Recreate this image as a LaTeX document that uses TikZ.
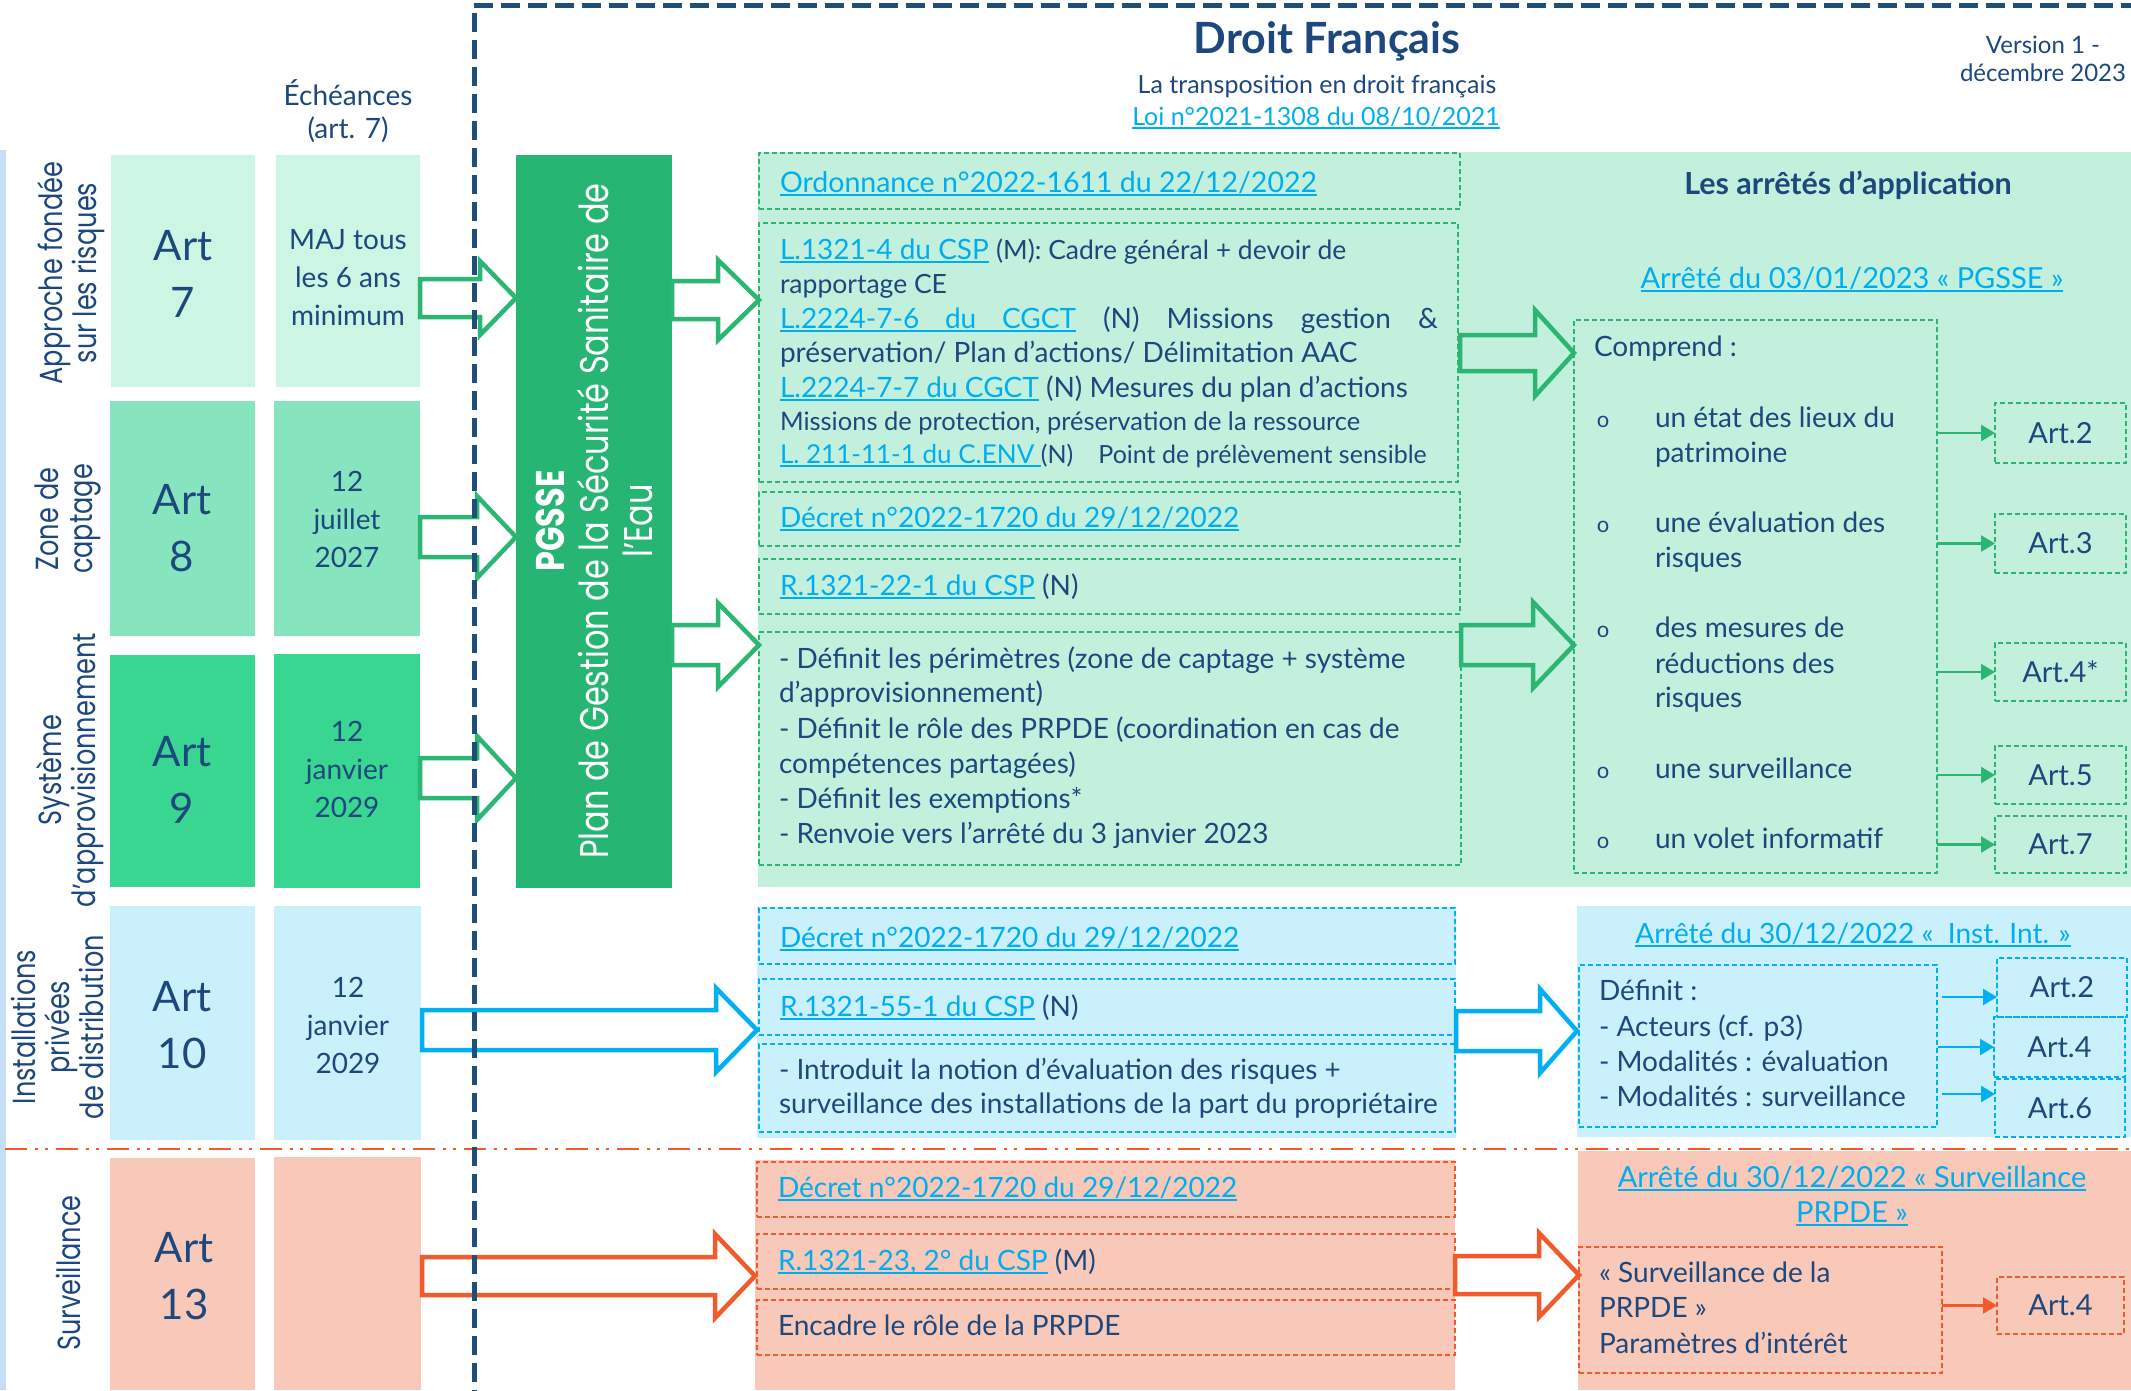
\documentclass[tikz,border=0pt]{standalone}
\usepackage{fontspec}
\setmainfont{Lato}
\newfontfamily\gothic[FakeStretch=0.8]{Poppins}
\usetikzlibrary{arrows.meta}
\definecolor{navy}{HTML}{1D487D}
\definecolor{navyd}{HTML}{1F4E79}
\definecolor{linkc}{HTML}{00AEEF}
\definecolor{grn}{HTML}{2BB673}
\definecolor{pg}{HTML}{27B574}
\definecolor{g1}{HTML}{CDF5E3}
\definecolor{g2}{HTML}{86E5BE}
\definecolor{g3}{HTML}{38D690}
\definecolor{rgreen}{HTML}{C2F0DC}
\definecolor{rblue}{HTML}{CAF0FC}
\definecolor{bluec}{HTML}{00B0F0}
\definecolor{salm}{HTML}{F8C8B8}
\definecolor{orng}{HTML}{F15A2B}
\definecolor{lbar}{HTML}{C5DDF5}
\newcommand\fs[2]{\fontsize{#1}{#2}\selectfont}
\newcommand\lnk[1]{{\color{linkc}\setbox0=\hbox{#1}\rlap{\rule[-3.5pt]{\wd0}{1.6pt}}\box0}}
\newcommand\bx[6][]{\node[basebox,#1,minimum width={(#5)-(#3)},minimum height={(#6)-(#4)}] (#2) at (#3,#4) {};}
\newcommand\barrow[7]{\draw[draw=#1,line width=4.5pt,miter limit=10] (#2,#5-#6) -- (#3,#5-#6) -- (#3,#5-#7) -- (#4,#5) -- (#3,#5+#7) -- (#3,#5+#6) -- (#2,#5+#6) -- cycle;}
\tikzset{
 basebox/.style={inner sep=0pt, outer sep=0pt, anchor=north west},
 gd/.style={draw=grn, line width=1.5pt, dash pattern=on 5pt off 3pt},
 bd/.style={draw=bluec, line width=1.5pt, dash pattern=on 5pt off 3pt},
 od/.style={draw=orng, line width=1.5pt, dash pattern=on 5pt off 3pt},
 tx/.style={inner sep=0pt, outer sep=0pt, anchor=base west, text=navy, font=\fs{28}{35}},
 ctx/.style={tx, anchor=base},
 big/.style={inner sep=0pt, align=center, text=navy, font=\fs{42}{57}},
 dt/.style={inner sep=0pt, align=center, text=navy, font=\fs{28}{38}},
 rot/.style={inner sep=0pt, rotate=90, align=center, text=navy, font=\gothic\fs{32}{34}},
 artl/.style={inner sep=0pt, text=navy, font=\fs{29}{35}},
 bul/.style={inner sep=0pt, anchor=base, text=navy, font=\fs{22}{30}},
 sg/.style={draw=grn, line width=2.5pt, -{Triangle[length=14pt,width=16pt]}},
 sb/.style={draw=bluec, line width=2.5pt, -{Triangle[length=14pt,width=16pt]}},
 so/.style={draw=orng, line width=2.5pt, -{Triangle[length=14pt,width=16pt]}},
}
\begin{document}
\begin{tikzpicture}[x=1pt,y=-1pt]
\useasboundingbox (0,0) rectangle (2131,1390);
\fill[white] (0,0) rectangle (2131,1390);
\fill[lbar] (0,150) rectangle (6,1390);
% regions
\bx[fill=rgreen]{regG}{758}{152}{2131}{887}
\bx[fill=rblue]{regBa}{757}{907}{1456}{1138}
\bx[fill=rblue]{regBb}{1577}{906}{2131}{1137}
\bx[fill=salm]{regOa}{755}{1160}{1455}{1390}
\bx[fill=salm]{regOb}{1578}{1151}{2131}{1390}
% left column
\bx[fill=g1]{art7}{111}{155}{255}{387}
\bx[fill=g1]{d7}{276}{155}{420}{387}
\bx[fill=g2]{art8}{110}{401}{255}{636}
\bx[fill=g2]{d8}{274}{401}{420}{636}
\bx[fill=g3]{art9}{110}{655}{255}{887}
\bx[fill=g3]{d9}{274}{654}{420}{888}
\bx[fill=rblue]{art10}{110}{906}{255}{1140}
\bx[fill=rblue]{d10}{274}{906}{421}{1140}
\bx[fill=salm]{art13}{110}{1158}{255}{1390}
\bx[fill=salm]{d13}{274}{1157}{421}{1390}
\bx[fill=pg]{pgsse}{516}{155}{672}{888}
% green dashed boxes
\bx[gd]{ord}{759}{153}{1460}{209}
\bx[gd]{lbox}{759}{223}{1458}{482}
\bx[gd]{deca}{759}{492}{1460}{546}
\bx[gd]{rtt}{759}{559}{1460}{614}
\bx[gd]{defb}{759}{632}{1461}{865}
\bx[gd]{comp}{1574}{320}{1937}{873}
\bx[gd]{ga2}{1995}{403}{2126}{463}
\bx[gd]{ga3}{1995}{514}{2126}{573}
\bx[gd]{ga4}{1995}{643}{2126}{701}
\bx[gd]{ga5}{1995}{746}{2126}{804}
\bx[gd]{ga7}{1995}{816}{2126}{873}
% blue dashed boxes
\bx[bd]{bdec}{759}{908}{1455}{964}
\bx[bd]{brff}{759}{979}{1455}{1035}
\bx[bd]{bint}{759}{1044}{1455}{1132}
\bx[bd]{bdef}{1579}{965}{1937}{1127}
\bx[bd]{bb2}{1997}{958}{2127}{1017}
\bx[bd]{bb4}{1994}{1017}{2125}{1077}
\bx[bd]{bb6}{1995}{1079}{2125}{1137}
% orange dashed boxes
\bx[od]{odec}{757}{1162}{1455}{1217}
\bx[od]{ortt}{757}{1234}{1455}{1289}
\bx[od]{oenc}{757}{1300}{1455}{1355}
\bx[od]{osur}{1579}{1247}{1942}{1373}
\bx[od]{oo4}{1997}{1277}{2124}{1334}
% dash-dot separator
\draw[orng, line width=2.5pt, dash pattern=on 22pt off 8pt on 3pt off 7pt on 3pt off 8pt] (5,1149) -- (2131,1149);
% block arrows
\barrow{grn}{420}{480}{516}{298}{19}{37}
\barrow{grn}{420}{477}{516}{537}{20}{41}
\barrow{grn}{420}{477}{516}{778}{20}{42}
\barrow{grn}{672}{718}{759}{300}{19}{40}
\barrow{grn}{672}{718}{759}{645}{20}{42}
\barrow{bluec}{422}{716}{757}{1030}{20}{42}
\barrow{orng}{422}{715}{755}{1276}{19}{42}
\barrow{grn}{1460}{1535}{1574}{353}{18}{43}
\barrow{grn}{1461}{1533}{1574}{645}{20}{43}
\barrow{bluec}{1456}{1540}{1577}{1031}{20}{42}
\barrow{orng}{1455}{1539}{1579}{1275}{19}{42}
% navy dashed frame
\draw[navyd, line width=5pt, dash pattern=on 19pt off 8pt] (2140,5) -- (474,5) -- (474,1400);
% small arrows
\draw[sg] (comp.east |- ga2.west) -- (ga2.west);
\draw[sg] (comp.east |- ga3.west) -- (ga3.west);
\draw[sg] (comp.east |- ga4.west) -- (ga4.west);
\draw[sg] (comp.east |- ga5.west) -- (ga5.west);
\draw[sg] (comp.east |- ga7.west) -- (ga7.west);
\coordinate (bya) at (0,997);
\coordinate (byb) at (0,1047);
\coordinate (byc) at (0,1094);
\draw[sb] ([xshift=5pt]bdef.east |- bya) -- (bb2.west |- bya);
\draw[sb] ([xshift=1pt]bdef.east |- byb) -- (bb4.west |- byb);
\draw[sb] ([xshift=5pt]bdef.east |- byc) -- (bb6.west |- byc);
\draw[so] (osur.east |- oo4.west) -- (oo4.west);
% header texts
\node[ctx, font=\bfseries\fs{43}{50}] (title) at (1327,53) {Droit Français};
\node[ctx, font=\fs{25}{30}] (sub) at (1317,93) {La transposition en droit français};
\node[ctx, font=\fs{25}{30}] (loi) at (1316,125) {\lnk{Loi n°2021-1308 du 08/10/2021}};
\node[ctx, font=\fs{24}{29}] (vera) at (2043,53) {Version 1 -};
\node[ctx, font=\fs{24}{29}] (verb) at (2043,81) {décembre 2023};
\node[ctx, font=\fs{28}{33}] (echa) at (348,105) {Échéances};
\node[ctx, font=\fs{28}{33}] (echb) at (348,138) {(art. 7)};
% rotated labels
\node[rot] (laba) at (71,273) {Approche fondée\\sur les risques};
\node[rot] (labb) at (68,519) {Zone de\\captage};
\node[rot] (labc) at (70,770) {Système\\d’approvisionnement};
\node[rot] (labd) at (57,1027) {Installations\\privées\\de distribution};
\node[rot] (labe) at (68,1273) {Surveillance};
\node[rot, text=white, font=\gothic\fs{40}{44}] (pgt) at (594,521) {{\bfseries PGSSE}\\Plan de Gestion de la Sécurité Sanitaire de\\l’Eau};
% left column texts
\node[big] (tart7) at (183,273.5) {Art\\7};
\node[big] (tart8) at (182,528.5) {Art\\8};
\node[big] (tart9) at (182,779.5) {Art\\9};
\node[big] (tart10) at (182,1025.5) {Art\\10};
\node[big] (tart13) at (184,1276.5) {Art\\13};
\node[dt] (td7) at (348,277.5) {MAJ tous\\les 6 ans\\minimum};
\node[dt] (td8) at (347,519.5) {12\\juillet\\2027};
\node[dt] (td9) at (347,769.5) {12\\janvier\\2029};
\node[dt] (td10) at (348,1025.5) {12\\janvier\\2029};
% green middle texts
\node[tx, font=\fs{28.5}{35}] (tord) at (780,192) {\lnk{Ordonnance n°2022-1611 du 22/12/2022}};
\node[tx] (la) at (780,259) {\lnk{L.1321-4 du CSP} {\fs{26.5}{30}(M): Cadre général + devoir de}};
\node[tx, font=\fs{26.5}{30}] (lb) at (780,293) {rapportage CE};
\node[tx] (lc) at (780,328) {\makebox[658pt][s]{\lnk{\makebox[296pt][s]{L.2224-7-6 du CGCT}} (N) Missions gestion \&}};
\node[tx] (ld) at (780,362) {préservation/ Plan d’actions/ Délimitation AAC};
\node[tx] (le) at (780,397) {\lnk{L.2224-7-7 du CGCT} (N) Mesures du plan d’actions};
\node[tx, font=\fs{25.5}{30}] (lf) at (780,430) {Missions de protection, préservation de la ressource};
\node[tx, font=\fs{26}{30}] (lg) at (780,463) {\lnk{L. 211-11-1 du C.ENV }{\fs{25}{30}(N)\quad Point de prélèvement sensible}};
\node[tx] (tdeca) at (780,527) {\lnk{Décret n°2022-1720 du 29/12/2022}};
\node[tx] (trtt) at (780,595) {\lnk{R.1321-22-1 du CSP} (N)};
\node[tx] (da) at (779,668) {- Définit les périmètres (zone de captage + système};
\node[tx] (db) at (779,702) {d’approvisionnement)};
\node[tx] (dc) at (779,738) {- Définit le rôle des PRPDE (coordination en cas de};
\node[tx] (dd) at (779,773) {compétences partagées)};
\node[tx] (de) at (779,808) {- Définit les exemptions*};
\node[tx] (df) at (779,843) {- Renvoie vers l’arrêté du 3 janvier 2023};
% green right texts
\node[ctx, font=\bfseries\fs{30.5}{36}] (tarr) at (1848,194) {Les arrêtés d’application};
\node[ctx, font=\fs{29}{34}] (tapg) at (1852,288) {\lnk{Arrêté du 03/01/2023 « PGSSE »}};
\node[tx] (tcomp) at (1594,356) {Comprend :};
\node[bul] (bua) at (1603,427) {o};
\node[bul] (bub) at (1603,532) {o};
\node[bul] (buc) at (1603,637) {o};
\node[bul] (bud) at (1603,778) {o};
\node[bul] (bue) at (1603,848) {o};
\node[tx] (ia) at (1655,427) {un état des lieux du};
\node[tx] (ib) at (1655,462) {patrimoine};
\node[tx] (ic) at (1655,532) {une évaluation des};
\node[tx] (id) at (1655,567) {risques};
\node[tx] (ie) at (1655,637) {des mesures de};
\node[tx] (if) at (1655,673) {réductions des};
\node[tx] (ig) at (1655,707) {risques};
\node[tx] (ih) at (1655,778) {une surveillance};
\node[tx] (ii) at (1655,848) {un volet informatif};
\node[artl] (tga2) at (ga2.center) {Art.2};
\node[artl] (tga3) at (ga3.center) {Art.3};
\node[artl] (tga4) at (ga4.center) {Art.4*};
\node[artl] (tga5) at (ga5.center) {Art.5};
\node[artl] (tga7) at (ga7.center) {Art.7};
% blue texts
\node[tx] (tbdec) at (780,947) {\lnk{Décret n°2022-1720 du 29/12/2022}};
\node[tx] (tbrff) at (780,1016) {\lnk{R.1321-55-1 du CSP} (N)};
\node[tx] (tbia) at (779,1079) {- Introduit la notion d’évaluation des risques +};
\node[tx] (tbib) at (779,1113) {surveillance des installations de la part du propriétaire};
\node[ctx, font=\fs{28}{34}] (tainst) at (1853,943) {\lnk{Arrêté du 30/12/2022 «\ \ Inst. Int. »}};
\node[tx] (bda) at (1599,1000) {Définit :};
\node[tx] (bdb) at (1599,1036) {- Acteurs (cf. p3)};
\node[tx] (bdc) at (1599,1071) {- Modalités : évaluation};
\node[tx] (bdd) at (1599,1106) {- Modalités : surveillance};
\node[artl] (tbb2) at (bb2.center) {Art.2};
\node[artl] (tbb4) at (bb4.center) {Art.4};
\node[artl] (tbb6) at (bb6.center) {Art.6};
% orange texts
\node[tx] (todec) at (778,1197) {\lnk{Décret n°2022-1720 du 29/12/2022}};
\node[tx] (tortt) at (778,1270) {\lnk{R.1321-23, 2° du CSP} (M)};
\node[tx] (toenc) at (778,1335) {Encadre le rôle de la PRPDE};
\node[ctx, font=\fs{29}{34}] (tasa) at (1852,1187) {\lnk{Arrêté du 30/12/2022 « Surveillance}};
\node[ctx, font=\fs{29}{34}] (tasb) at (1852,1222) {\lnk{PRPDE »}};
\node[tx] (osa) at (1599,1282) {« Surveillance de la};
\node[tx] (osb) at (1599,1317) {PRPDE »};
\node[tx] (osc) at (1599,1353) {Paramètres d’intérêt};
\node[artl] (too4) at (oo4.center) {Art.4};
\end{tikzpicture}
\end{document}
